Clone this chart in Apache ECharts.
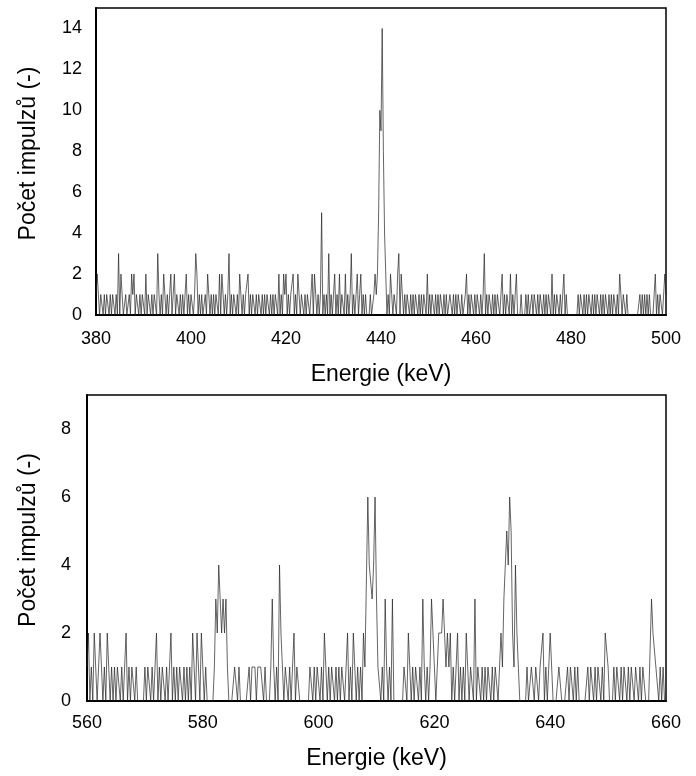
<!DOCTYPE html>
<html>
<head>
<meta charset="utf-8">
<script src="https://cdn.jsdelivr.net/npm/echarts@6/dist/echarts.min.js"></script>
<style>
  html, body { margin: 0; padding: 0; background: #fff; }
  #chart { width: 696px; height: 776px; }
</style>
</head>
<body>
<div id="chart"></div>
<script>
// kanál = 0.25 keV
const step = 0.25;

// horní spektrum 380–500 keV (po řádcích 5 keV)
const topStart = 380;
const countsTop = [
  1,2,1,0,1,1,0,1,0,1,1,0,1,0,1,1,0,1,0,3,
  0,2,1,0,0,1,0,0,1,0,2,1,2,0,1,1,0,1,0,1,
  1,0,2,0,1,1,0,1,0,1,1,0,3,1,0,1,0,2,1,0,
  1,0,1,2,0,1,2,0,1,1,0,1,0,1,0,1,2,0,1,0,
  1,1,0,1,3,2,0,1,0,1,0,0,1,0,2,1,0,1,0,1,
  0,1,1,0,2,0,2,1,0,1,0,1,3,0,1,0,1,1,0,1,
  0,2,2,0,1,0,1,1,2,0,1,0,1,1,0,1,0,1,1,0,
  1,0,1,0,1,1,0,1,0,1,0,1,1,0,2,0,1,0,2,1,
  2,0,1,0,1,1,2,0,1,0,2,1,0,1,1,0,1,0,1,1,
  0,1,2,0,2,1,0,1,0,1,5,0,1,0,1,0,3,0,1,0,
  1,2,0,1,0,2,0,1,1,0,2,0,1,0,1,3,0,1,0,1,
  2,0,1,2,0,1,0,1,0,0,0,1,0,0,1,2,1,2,5,10,
  9,14,8,4,2,0,1,0,2,1,0,1,1,0,2,3,0,2,1,0,
  1,0,1,1,0,1,0,1,0,1,1,0,1,0,1,0,1,1,0,2,
  0,1,0,1,1,0,1,0,1,0,1,1,0,1,0,1,0,0,1,1,
  0,1,0,1,0,1,1,0,1,0,0,1,2,0,1,0,1,1,0,1,
  0,1,1,0,1,0,1,3,0,1,0,1,1,0,1,0,1,0,1,1,
  0,1,2,0,1,0,1,1,0,2,0,1,0,1,2,0,0,0,1,0,
  0,0,1,0,1,0,0,1,0,1,1,0,1,0,1,1,0,1,0,1,
  0,1,1,0,2,0,1,0,1,1,0,1,0,1,2,0,1,0,0,0,
  0,0,0,0,0,0,1,0,1,1,0,1,0,1,0,1,1,0,1,0,
  1,0,1,1,0,1,0,1,0,1,1,0,1,0,1,0,1,1,0,1,
  0,2,1,0,1,1,0,1,0,0,0,0,0,0,0,0,0,0,1,0,
  1,0,1,0,1,0,1,0,0,0,0,2,0,1,0,1,1,0,0,2,
  1
];

// dolní spektrum 560–660 keV
const bottomStart = 560;
const countsBottom = [
  1,2,0,1,0,2,1,0,1,2,2,0,1,0,2,1,0,1,0,1,
  0,1,1,0,1,0,1,2,0,1,0,1,1,0,1,0,0,0,0,0,
  1,0,1,1,0,1,0,1,2,0,1,0,1,1,0,1,0,1,2,0,
  1,0,1,0,1,1,0,1,0,1,0,1,0,2,1,0,2,1,0,2,
  1,0,1,0,0,0,0,0,1,3,2,4,4,2,3,2,3,1,0,0,
  0,0,1,1,0,1,0,0,0,0,0,0,1,0,1,1,1,0,1,1,
  1,1,0,1,0,0,0,1,3,1,0,1,0,4,2,1,0,1,1,0,
  1,0,1,2,0,1,1,0,0,0,0,0,0,0,1,1,0,1,0,1,
  1,0,1,0,2,1,0,1,0,1,1,0,1,0,1,0,1,1,0,1,
  2,0,1,0,2,1,0,1,0,1,0,2,1,1,6,4,4,3,4,6,
  3,1,1,0,1,0,3,1,0,1,0,3,0,0,0,0,0,0,0,1,
  1,0,2,1,0,1,0,1,1,0,1,0,3,1,0,1,0,1,3,2,
  1,0,1,2,2,2,3,2,1,2,1,2,0,1,0,1,2,0,1,0,
  1,0,2,1,0,1,1,0,3,0,1,1,0,1,0,1,0,1,1,0,
  1,0,1,1,0,1,2,1,3,4,5,4,6,5,2,1,4,2,1,0,
  0,0,0,0,1,0,0,1,1,0,1,1,0,1,1,2,0,1,0,1,
  2,1,0,0,0,0,1,1,0,0,0,0,1,0,1,1,0,1,0,1,
  0,0,0,0,0,0,1,0,1,1,0,1,0,1,1,0,1,0,2,2,
  1,0,0,0,1,0,1,1,0,1,0,1,1,0,1,0,1,1,0,1,
  1,0,1,0,1,1,0,0,0,0,3,2,2,1,1,0,1,0,1,0,
  0
];

const xTicksTop = [380, 500, 20];
const xTicksBottom = [560, 660, 20];
const yTop = [0, 15, 2];
const yBottom = [0, 9, 2];

const xName = 'Energie (keV)';
const yName = 'Počet impulzů (-)';

const font = "'Liberation Sans', Arial, sans-serif";

function toPairs(start, arr) {
  return arr.map((c, i) => [start + i * step, c]);
}

function xAxisOf(idx, t, gap, margin) {
  return {
    gridIndex: idx, type: 'value', min: t[0], max: t[1], interval: t[2],
    name: xName, nameLocation: 'middle', nameGap: gap,
    nameTextStyle: { fontSize: 23, color: '#000', fontFamily: font },
    axisLine: { show: true, lineStyle: { color: '#000', width: 2 } },
    axisTick: { show: false },
    axisLabel: { fontSize: 18, color: '#000', fontFamily: font, margin: margin },
    splitLine: { show: false },
  };
}

// padding vlevo posune popisek osy y o kousek nahoru
function yAxisOf(idx, t, gap, margin) {
  return {
    gridIndex: idx, type: 'value', min: t[0], max: t[1], interval: t[2],
    name: yName, nameLocation: 'middle', nameGap: gap, nameRotate: 90,
    nameTextStyle: { fontSize: 23, color: '#000', fontFamily: font, padding: [0, 0, 0, 16] },
    axisLine: { show: true, lineStyle: { color: '#000', width: 2 } },
    axisTick: { show: false },
    axisLabel: { fontSize: 18, color: '#000', fontFamily: font, margin: margin, showMaxLabel: false },
    splitLine: { show: false },
  };
}

const chart = echarts.init(document.getElementById('chart'));
chart.setOption({
  animation: false,
  backgroundColor: '#fff',
  grid: [
    { left: 96, top: 8, width: 570, height: 307, show: true, borderColor: '#000', borderWidth: 1.5 },
    { left: 87, top: 395, width: 579, height: 306, show: true, borderColor: '#000', borderWidth: 1.5 },
  ],
  xAxis: [xAxisOf(0, xTicksTop, 48, 15), xAxisOf(1, xTicksBottom, 46, 13)],
  yAxis: [yAxisOf(0, yTop, 56, 14), yAxisOf(1, yBottom, 47, 16)],
  series: [
    {
      type: 'line', xAxisIndex: 0, yAxisIndex: 0, data: toPairs(topStart, countsTop),
      symbol: 'none', sampling: null, lineStyle: { color: '#222', width: 0.7 },
    },
    {
      type: 'line', xAxisIndex: 1, yAxisIndex: 1, data: toPairs(bottomStart, countsBottom),
      symbol: 'none', sampling: null, lineStyle: { color: '#222', width: 0.7 },
    },
  ],
});
</script>
</body>
</html>
